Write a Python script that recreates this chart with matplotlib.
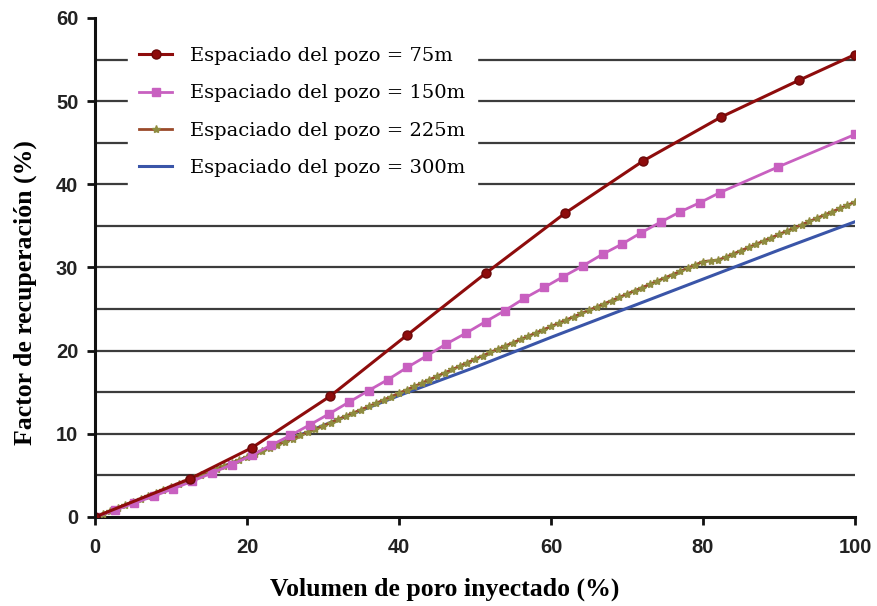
import matplotlib
matplotlib.use("Agg")
import matplotlib.pyplot as plt
import numpy as np

# --- data ---
x_75 = [0, 12.5, 20.6, 30.9, 41.1, 51.4, 61.8, 72.1, 82.4, 92.6, 100]
y_75 = [0, 4.6, 8.3, 14.5, 21.9, 29.3, 36.5, 42.8, 48.1, 52.5, 55.6]

x_150 = [0, 2.6, 5.1, 7.7, 10.3, 12.8, 15.4, 18.0, 20.6, 23.1, 25.7, 28.3,
         30.8, 33.4, 36.0, 38.5, 41.1, 43.7, 46.2, 48.8, 51.4, 53.9, 56.5,
         59.1, 61.6, 64.2, 66.8, 69.3, 71.9, 74.5, 77.0, 79.6, 82.2, 89.9, 100]
y_150 = [0, 0.8, 1.65, 2.5, 3.4, 4.3, 5.3, 6.3, 7.4, 8.6, 9.8, 11.1,
         12.4, 13.8, 15.2, 16.5, 18.0, 19.4, 20.8, 22.1, 23.5, 24.8, 26.3,
         27.6, 28.9, 30.2, 31.6, 32.8, 34.2, 35.5, 36.7, 37.8, 39.0, 42.1, 46.0]

x_225 = list(range(0, 101))
y_225 = [0.0, 0.36, 0.72, 1.08, 1.44, 1.80, 2.16, 2.52, 2.88, 3.24,
         3.60, 3.96, 4.32, 4.68, 5.04, 5.40, 5.76, 6.12, 6.48, 6.84,
         7.20, 7.57, 7.94, 8.31, 8.68, 9.05, 9.42, 9.80, 10.18, 10.56,
         10.95, 11.34, 11.73, 12.12, 12.51, 12.90, 13.29, 13.68, 14.08, 14.48,
         14.88, 15.28, 15.69, 16.10, 16.51, 16.92, 17.33, 17.74, 18.15, 18.56,
         18.97, 19.38, 19.78, 20.18, 20.57, 20.96, 21.35, 21.74, 22.13, 22.52,
         22.91, 23.30, 23.69, 24.08, 24.47, 24.86, 25.25, 25.64, 26.03, 26.42,
         26.81, 27.20, 27.59, 27.98, 28.37, 28.76, 29.15, 29.54, 29.93, 30.32,
         30.71, 30.80, 30.90, 31.25, 31.64, 32.03, 32.42, 32.81, 33.20, 33.59,
         33.98, 34.37, 34.76, 35.15, 35.54, 35.93, 36.32, 36.71, 37.10, 37.49,
         37.88]

x_300 = [0, 10, 20, 30, 40, 50, 60, 70, 80, 90, 100]
y_300 = [0, 3.6, 7.2, 11.0, 14.6, 18.0, 21.6, 25.1, 28.6, 32.1, 35.5]

labels = ["Espaciado del pozo = 75m", "Espaciado del pozo = 150m",
          "Espaciado del pozo = 225m", "Espaciado del pozo = 300m"]

fig = plt.figure(figsize=(8.78, 6.06), dpi=100)
ax = fig.add_axes([0.1082, 0.1469, 0.8656, 0.8234])

# horizontal grid every 5, no line at 60
for g in range(5, 60, 5):
    ax.axhline(g, color="#3c3c3c", lw=1.6, zorder=1)

ax.plot(x_300, y_300, color="#3a55a8", lw=2.2, zorder=3, label=labels[3])
ax.plot(x_225, y_225, color="#9a4a2a", lw=2.0, marker="*", ms=6,
        mfc="#8f8c40", mec="#8f8c40", zorder=4, label=labels[2])
ax.plot(x_150, y_150, color="#c860c0", lw=2.0, marker="s", ms=5.5,
        mfc="#c860c0", mec="#c860c0", zorder=5, label=labels[1])
ax.plot(x_75, y_75, color="#8e0c0c", lw=2.2, marker="o", ms=6.5,
        mfc="#8e0c0c", mec="#6a0808", zorder=6, label=labels[0])

ax.set_xlim(0, 100)
ax.set_ylim(0, 60)
ax.set_xticks(range(0, 101, 20))
ax.set_yticks(range(0, 61, 10))
for s in ["top", "right"]:
    ax.spines[s].set_visible(False)
for s in ["left", "bottom"]:
    ax.spines[s].set_linewidth(2.2)
    ax.spines[s].set_color("#111111")
ax.spines["left"].set_zorder(7)
ax.tick_params(direction="out", length=6, width=2, color="#111111")
for lab in ax.get_xticklabels() + ax.get_yticklabels():
    lab.set_fontfamily("Liberation Sans")
    lab.set_fontweight("bold")
    lab.set_fontsize(14.5)
    lab.set_color("#222222")
ax.tick_params(axis="x", pad=9)
ax.tick_params(axis="y", pad=6)

ax.set_xlabel("Volumen de poro inyectado (%)", fontfamily="Liberation Serif",
              fontweight="bold", fontsize=18.5, labelpad=15)
ax.set_ylabel("Factor de recuperación (%)", fontfamily="Liberation Serif",
              fontweight="bold", fontsize=18.5, labelpad=14)
ax.xaxis.label.set_x(0.46)
ax.yaxis.label.set_y(0.45)

h, l = ax.get_legend_handles_labels()
leg = ax.legend(h[::-1], l[::-1], loc="upper left", bbox_to_anchor=(0.03, 0.985),
                frameon=True, fancybox=False, framealpha=1, edgecolor="white",
                facecolor="white", prop={"family": "DejaVu Serif", "size": 14},
                handlelength=1.7, handletextpad=0.9, labelspacing=1.0,
                borderpad=0.6)
leg.set_zorder(8)

fig.savefig("out.png", dpi=100)
